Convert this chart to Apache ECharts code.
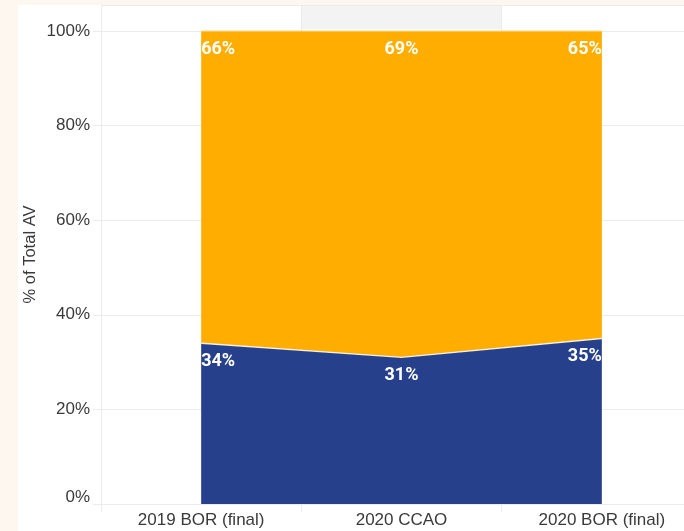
<!DOCTYPE html>
<html>
<head>
<meta charset="utf-8">
<script src="https://cdn.jsdelivr.net/npm/echarts@6/dist/echarts.min.js"></script>
<style>
html,body{margin:0;padding:0;background:#fdf7ef;overflow:hidden;width:684px;height:531px;}
#c{width:702px;height:531px;}
</style>
</head>
<body>
<div id="c"></div>
<script>
const categories = ['2019 BOR (final)', '2020 CCAO', '2020 BOR (final)'];
const bottomShare = [34, 31, 35];
const topShare = [66, 69, 65];
const yTicks = [0, 20, 40, 60, 80, 100];

const alignFor = (i, n) => (i === 0 ? 'left' : (i === n - 1 ? 'right' : 'center'));
function buildData(vals) {
  return vals.map((v, i) => ({ value: v, label: { align: alignFor(i, vals.length) } }));
}

const chart = echarts.init(document.getElementById('c'), null, { renderer: 'canvas' });
const gridColor = '#ececec';
const labelFont = { fontFamily: 'Liberation Sans, Arial, sans-serif', fontSize: 17, color: '#3a3a3a' };
const valueLabel = {
  show: true, position: 'bottom', distance: 9,
  formatter: p => p.value + '%',
  color: '#ffffff', fontFamily: 'Roboto, sans-serif', fontWeight: 'bold', fontSize: 18
};

chart.setOption({
  backgroundColor: '#fdf7ef',
  animation: false,
  graphic: [
    { type: 'rect', shape: { x: 18, y: 5, width: 720, height: 540 }, style: { fill: '#ffffff' }, z: -10, silent: true },
    { type: 'rect', shape: { x: 302, y: 5, width: 200, height: 24 }, style: { fill: '#f3f3f3' }, z: -5, silent: true }
  ],
  grid: { left: 101, right: 0, top: 5, bottom: 27, containLabel: false },
  xAxis: {
    type: 'category',
    data: categories,
    boundaryGap: true,
    axisLine: { show: true, lineStyle: { color: gridColor } },
    axisTick: { show: true, length: 8, lineStyle: { color: gridColor } },
    splitLine: { show: true, lineStyle: { color: gridColor } },
    axisLabel: Object.assign({ margin: 8, interval: 0 }, labelFont)
  },
  yAxis: {
    type: 'value',
    min: 0,
    max: 105.5,
    interval: 20,
    name: '% of Total AV',
    nameLocation: 'middle',
    nameGap: 62,
    nameMoveOverlap: false,
    nameTextStyle: Object.assign({}, labelFont, { fontSize: 16.5 }),
    axisLine: { show: true, lineStyle: { color: gridColor } },
    axisTick: { show: true, length: 8, lineStyle: { color: gridColor } },
    splitLine: { show: true, lineStyle: { color: gridColor } },
    axisLabel: Object.assign({
      margin: 11,
      showMaxLabel: false,
      formatter: function (v) {
        if (yTicks.indexOf(v) < 0) return '';
        if (v === 0) return '{z|0%}';
        return v + '%';
      },
      rich: { z: Object.assign({ padding: [0, 0, 14, 0] }, labelFont) }
    }, labelFont)
  },
  series: [
    {
      type: 'line',
      stack: 'total',
      data: buildData(bottomShare),
      symbol: 'circle',
      symbolSize: 0,
      showSymbol: true,
      itemStyle: { color: '#27408b' },
      lineStyle: { color: 'rgba(255,255,255,0.85)', width: 1.5 },
      areaStyle: { color: '#27408b', opacity: 1 },
      label: valueLabel,
      z: 2
    },
    {
      type: 'line',
      stack: 'total',
      data: buildData(topShare),
      symbol: 'circle',
      symbolSize: 0,
      showSymbol: true,
      itemStyle: { color: '#ffae00' },
      lineStyle: { color: 'rgba(255,220,150,1)', width: 1 },
      areaStyle: { color: '#ffae00', opacity: 1 },
      label: valueLabel,
      z: 2
    }
  ]
});
</script>
</body>
</html>
